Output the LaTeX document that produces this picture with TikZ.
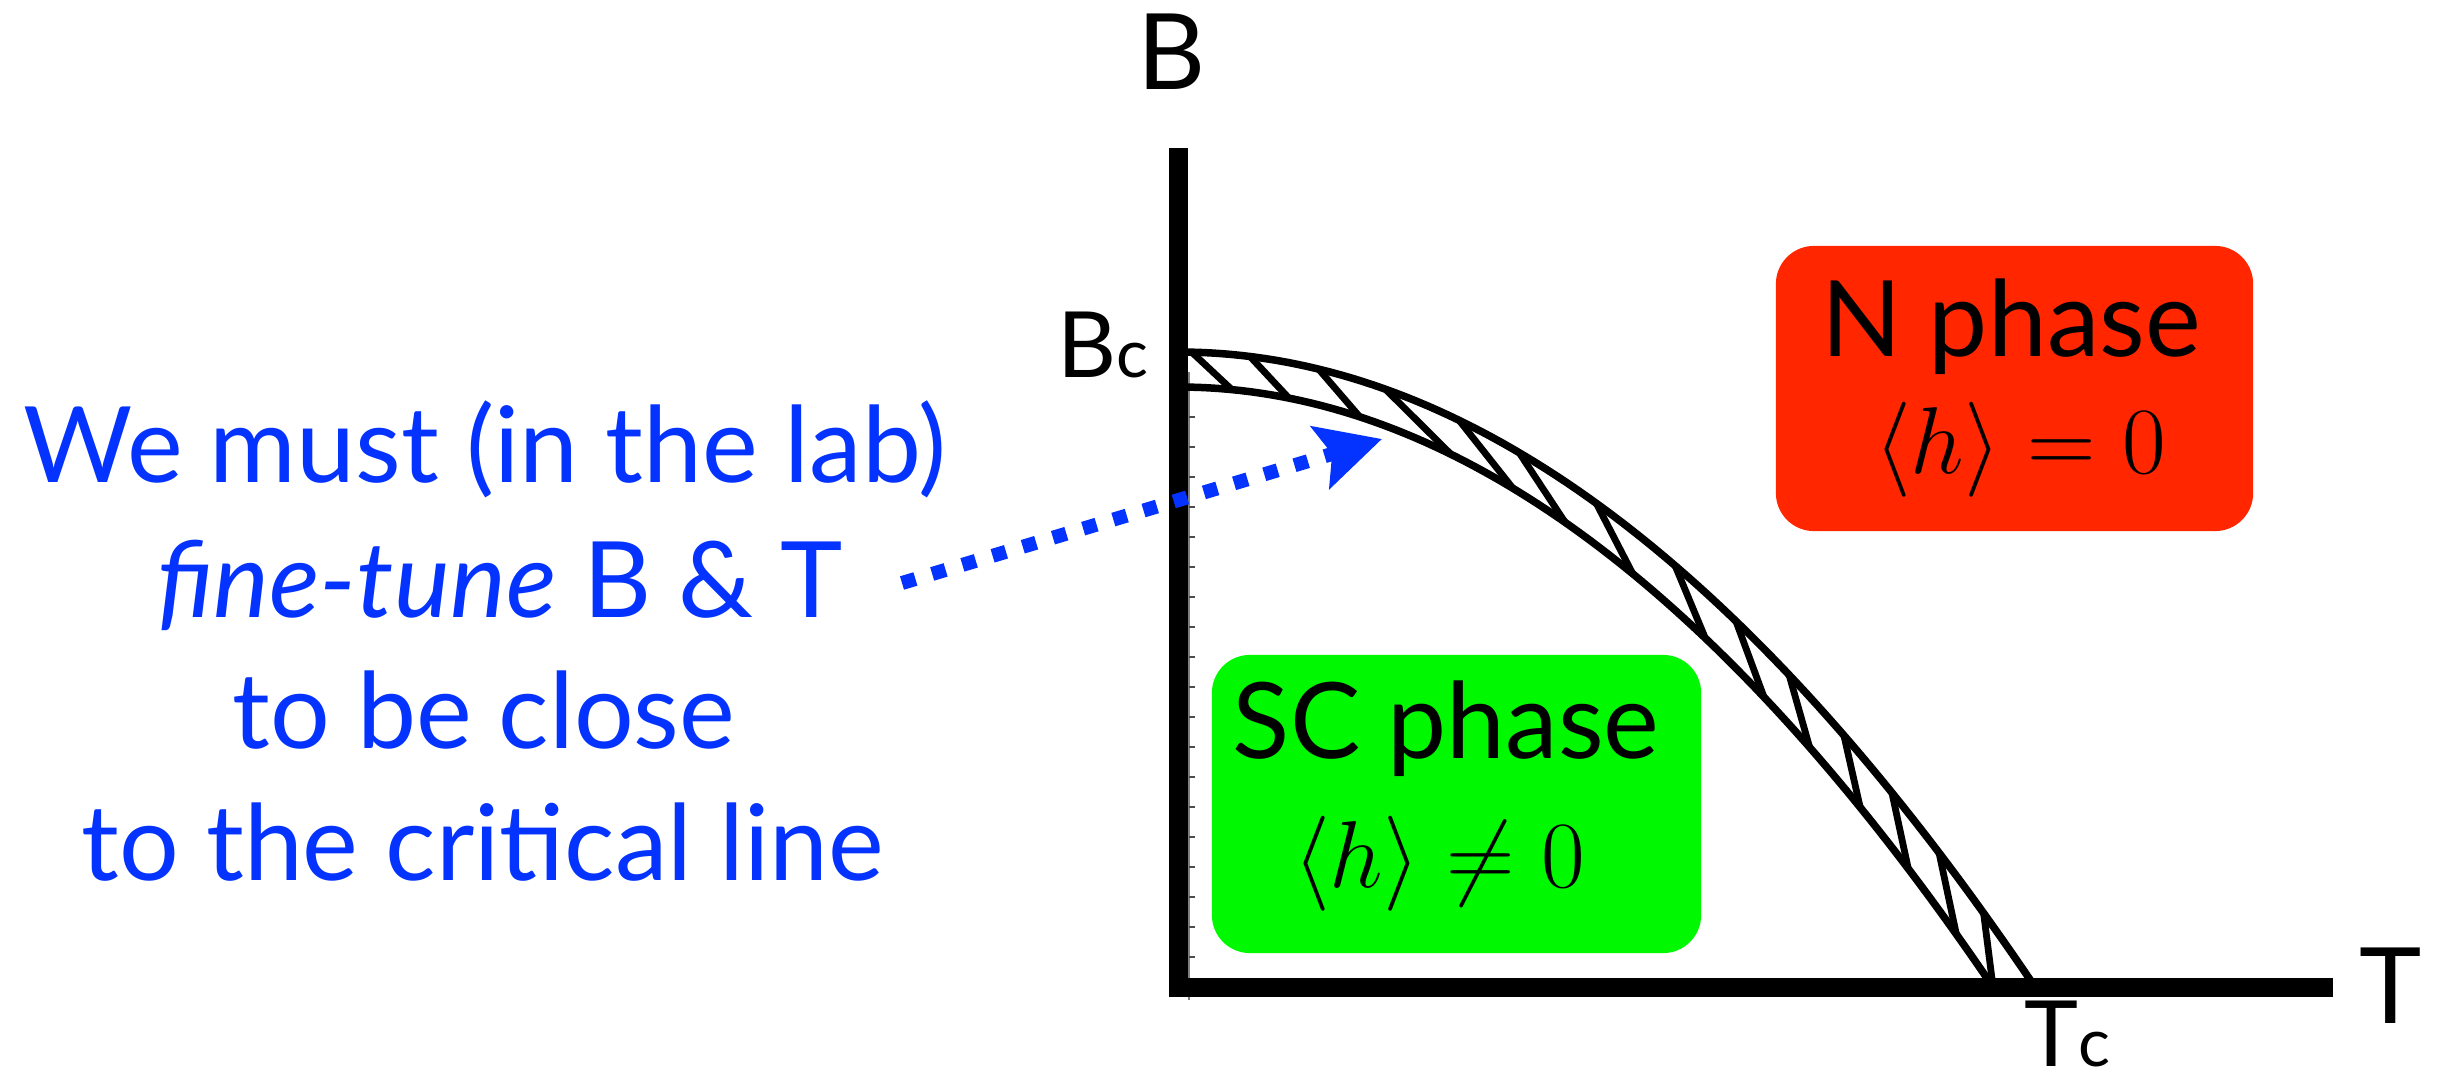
\RequirePackage{fix-cm}
\documentclass[tikz,border=0pt]{standalone}
\usepackage{fontspec}
\setmainfont{Lato}
\usetikzlibrary{arrows.meta}
\definecolor{cBlue}{RGB}{4,51,255}
\definecolor{cRed}{RGB}{255,38,0}
\definecolor{cGreen}{RGB}{0,249,0}
\newcommand\bigtxt{\fontsize{30}{36}\selectfont}
\newcommand\subtxt{\fontsize{26}{30}\selectfont}
\newcommand\mathtxt{\fontsize{27}{32}\selectfont}

\begin{document}
\begin{tikzpicture}[x=0.01cm,y=0.01cm,
  axis/.style={line width=0.19cm,line join=miter},
  curve/.style={line width=0.075cm},
  hatchline/.style={line width=0.068cm},
  phasebox/.style={rounded corners=0.38cm,inner sep=0pt},
  lbl/.style={anchor=base,font=\bigtxt,inner sep=0pt},
  blueline/.style={lbl,text=cBlue},
  pointer/.style={cBlue,line width=0.14cm,dash pattern=on 0.14cm off 0.175cm,
    -{Stealth[length=0.64cm,width=0.64cm,inset=0.12cm]}}]
\useasboundingbox (0,0) rectangle (2446,1087);
% phase boxes
\node[phasebox,fill=cRed,minimum width=4.77cm,minimum height=2.85cm] (nbox) at (2014.5,698.5) {};
\node[phasebox,fill=cGreen,minimum width=4.89cm,minimum height=2.98cm] (scbox) at (1456.5,283) {};
\node[lbl] (ntitle) at (2011,731) {N phase};
\node[lbl,font=\mathtxt] (nvev) at (2020,614) {$\langle h\rangle = 0$};
\node[lbl] (sctitle) at (1446,329) {SC phase};
\node[lbl,font=\mathtxt] (scvev) at (1439,200) {$\langle h\rangle \neq 0$};
% faint ticks next to the B axis
\draw[gray,line width=0.02cm] (1189,715) -- (1189,87);
\foreach \j in {0,...,18}
  \draw[gray!60!black,line width=0.02cm] (1189,{670-30*\j}) -- ++(6,0);
% axes
\draw[axis] (1178,939) -- (1178,100) -- (2333,100);
\node[lbl] (bname) at (1172,997) {B};
\node[lbl] (tname) at (2391,64) {T};
\node[lbl,anchor=base east,font=\subtxt] (bcrit) at (1149,709) {B{\fontsize{19}{19}\selectfont c}};
\node[lbl,font=\subtxt] (tcrit) at (2067,21) {T{\fontsize{19}{19}\selectfont c}};
% critical band
\draw[curve] plot[domain=0:1,samples=80] ({1178+857*\x},{100+635*(1-\x*\x)});
\draw[curve] plot[domain=0:1,samples=80] ({1178+815*\x},{100+600*(1-\x*\x)});
\foreach \tA/\tB in {0.016/0.066,0.084/0.136,0.164/0.223,0.242/0.335,0.328/0.411,
    0.398/0.475,0.488/0.558,0.580/0.647,0.651/0.719,0.713/0.775,0.777/0.837,
    0.833/0.896,0.888/0.955,0.940/1}
  \draw[hatchline] ({1178+857*\tA},{100+635*(1-\tA*\tA)}) -- ({1178+815*\tB},{100+600*(1-\tB*\tB)});
% lab remark
\node[blueline] (must) at (485,605) {We must (in the lab)};
\node[blueline] (tune) at (500,470) {\textit{fine-tune} B \& T};
\node[blueline] (close) at (484,339) {to be close};
\node[blueline] (crit) at (483,207) {to the critical line};
\coordinate (tail) at (902,504);
\coordinate (aim) at (1382,648);
\draw[pointer] (tail) -- (aim);
\end{tikzpicture}
\end{document}
